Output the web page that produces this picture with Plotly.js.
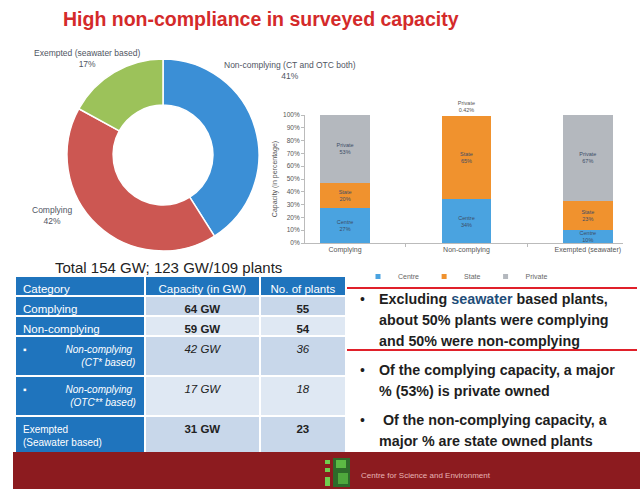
<!DOCTYPE html>
<html>
<head>
<meta charset="utf-8">
<script src="https://cdn.plot.ly/plotly-3.0.1.min.js"></script>
<style>html,body{margin:0;padding:0;background:#fff;overflow:hidden;}#chart{width:640px;height:489px;}</style>
</head>
<body>
<div id="chart"></div>
<script>
// ---- Data ----
const pieLabels = ["Non-complying (CT and OTC both)", "Complying", "Exempted (seawater based)"];
const pieValues = [41, 42, 17];
const pieColors = ["#3b8fd6", "#cc5752", "#9cc25a"];

const barCategories = ["Complying", "Non-complying", "Exempted (seawater)"];
const ownerNames = ["Centre", "State", "Private"];
const centreShare = [27, 34, 10];
const stateShare = [20, 65, 23];
const privateShare = [53, 0.42, 67];

const tableHeader = ["Category", "Capacity (in GW)", "No. of plants"];
const tableCategories = ["Complying", "Non-complying", "Non-complying|(CT* based)", "Non-complying|(OTC** based)", "Exempted|(Seawater based)"];
const tableSub = [false, false, true, true, false];
const tableCapacityGW = [64, 59, 42, 17, 31];
const tablePlants = [55, 54, 36, 18, 23];

const bulletLines = [
  ["Excluding <span style='color:#1f4e79'>seawater</span> based plants,", "about 50% plants were complying", "and 50% were non-complying"],
  ["Of the complying capacity, a major", "% (53%) is private owned"],
  ["\u00a0Of the non-complying capacity, a", "major % are state owned plants"]
];
const titleText = "High non-compliance in surveyed capacity";
const totalText = "Total 154 GW; 123 GW/109 plants";
const footerText = "Centre for Science and Environment";

// ---- helpers ----
const W = 640, H = 489;
const px = x => x / W;
const py = y => 1 - y / H;
const nb = s => s.replace(/ /g, "\u00a0");
const pad = n => "\u00a0".repeat(n);

// ---- Pie ----
const pie = {
  type: "pie", labels: pieLabels, values: pieValues, sort: false,
  direction: "clockwise", rotation: 0, hole: 0.52,
  marker: {colors: pieColors, line: {color: "#ffffff", width: 1.5}},
  textinfo: "none", hoverinfo: "none", showlegend: false,
  domain: {x: [px(67), px(259)], y: [py(252), py(58)]}
};

// ---- Bars ----
const barColors = ["#4aa3e0", "#f0922e", "#b4b8be"];
const shares = [centreShare, stateShare, privateShare];
const bars = ownerNames.map((name, i) => ({
  type: "bar", name: name, x: barCategories, y: shares[i], showlegend: false,
  marker: {color: barColors[i]}, width: 0.41,
  text: shares[i].map(v => name + "<br>" + v + "%"),
  textposition: shares[i].map(v => v < 5 ? "outside" : "inside"),
  insidetextanchor: "middle", constraintext: "none",
  textfont: {size: 5.5, color: "#3d4d66", family: "Liberation Sans"},
  outsidetextfont: {size: 5.5, color: "#555", family: "Liberation Sans"},
  cliponaxis: false, hoverinfo: "none", xaxis: "x", yaxis: "y"
}));
// legend entries (small square swatches like the source)
const legendEntries = ownerNames.map((name, i) => ({
  type: "scatter", mode: "markers", name: name, x: [null], y: [null],
  marker: {symbol: "square", size: 5, color: barColors[i]}, hoverinfo: "none",
  xaxis: "x", yaxis: "y", showlegend: true
}));

// ---- Table ----
const catCells = tableCategories.map((c, i) => {
  const parts = c.split("|").map(nb);
  if (tableSub[i]) {
    const second = parts[1].length > 12 ? 17 : 21;
    return "▪" + pad(14) + parts[0] + "<br>" + pad(second) + parts[1];
  }
  return parts.join("<br>");
});
const capCells = tableCapacityGW.map(v => v + "\u00a0GW");
const plantCells = tablePlants.map(v => String(v));
const rowFill = tableCategories.map((c, i) => i % 2 === 0 ? "#c8d7ea" : "#dfe8f3");
const catSize = tableCategories.map(c => c.indexOf("|") >= 0 ? 10 : 11.5);
const dataWeight = tableSub.map(s => s ? "normal" : "bold");
const styleArr = tableSub.map(s => s ? "italic" : "normal");
const table = {
  type: "table",
  domain: {x: [px(15), px(346)], y: [py(452), py(276)]},
  columnwidth: [128, 113, 85],
  header: {
    values: tableHeader.map(nb), align: ["left", "center", "center"], height: 20,
    fill: {color: "#1f74bd"}, line: {color: "#ffffff", width: 2},
    font: {family: "Liberation Sans", size: 11.5, color: "#ffffff"}
  },
  cells: {
    values: [catCells, capCells, plantCells], align: ["left", "center", "center"], height: 20,
    fill: {color: [tableCategories.map(() => "#1f74bd"), rowFill, rowFill]},
    line: {color: "#ffffff", width: 2},
    font: {family: "Liberation Sans",
      size: [catSize, 11.5, 11.5],
      color: [tableCategories.map(() => "#ffffff"), "#222222", "#222222"],
      weight: [tableCategories.map(() => "normal"), dataWeight, dataWeight],
      style: [styleArr, styleArr, styleArr]}
  }
};

// ---- Annotations ----
const A = (x, y, text, font, xanchor) => ({x: px(x), y: py(y), xref: "paper", yref: "paper", text: text,
  showarrow: false, xanchor: xanchor || "center", yanchor: "middle", font: font});
const ann = [];
ann.push(A(261, 19, "<b>" + titleText + "</b>", {family: "Liberation Sans Narrow, Liberation Sans", size: 19.5, color: "#d42a2a"}));
const pieLabelPos = [[290, 71], [52, 215], [87, 58]];
pieLabels.forEach((l, i) => {
  ann.push(A(pieLabelPos[i][0], pieLabelPos[i][1], l + "<br>" + pieValues[i] + "%", {family: "Liberation Sans", size: 8.5, color: "#4f5563"}));
});
ann.push(A(168, 267, totalText, {family: "Liberation Sans", size: 15, color: "#222"}));
const bulletY = [[299, 320, 341], [370, 391], [420, 441]];
bulletLines.forEach((lines, b) => {
  ann.push(A(362, bulletY[b][0], "•", {family: "Liberation Sans", size: 14, color: "#1e1e1e"}));
  lines.forEach((t, j) => {
    ann.push(A(377, bulletY[b][j], "<b>" + t + "</b>", {family: "Liberation Sans", size: 14.3, color: "#1e1e1e"}, "left"));
  });
});
ann.push(A(359, 475, footerText, {family: "Liberation Sans", size: 8, color: "#e8b4b4"}, "left"));

// ---- Shapes ----
const R = (x0, x1, y0, y1, c) => ({type: "rect", xref: "paper", yref: "paper", x0: px(x0), x1: px(x1), y0: py(y1), y1: py(y0), fillcolor: c, line: {width: 0}});
const shapes = [
  R(13, 640, 452, 489, "#8c1b1f"),
  {type: "line", xref: "paper", yref: "paper", x0: px(347), x1: px(637), y0: py(288), y1: py(288), line: {color: "#e0202a", width: 2}},
  {type: "line", xref: "paper", yref: "paper", x0: px(347), x1: px(637), y0: py(350), y1: py(350), line: {color: "#e0202a", width: 2}},
  R(333, 350, 458, 487, "#2e6b2a"),
  R(336, 346, 460, 468, "#5cb944"),
  R(338, 348, 473, 484, "#4fa83c"),
  R(325, 330, 460, 464, "#6fcf4f"),
  R(325, 330, 468, 472, "#6fcf4f"),
  R(325, 330, 477, 486, "#6fcf4f")
];

const layout = {
  width: W, height: H, autosize: false,
  margin: {l: 0, r: 0, t: 0, b: 0, pad: 0},
  paper_bgcolor: "#ffffff", plot_bgcolor: "#ffffff",
  barmode: "stack",
  showlegend: true,
  legend: {orientation: "h", x: px(358), y: py(262), xanchor: "left", yanchor: "top",
    font: {family: "Liberation Sans", size: 7, color: "#666"}, itemwidth: 30,
    bgcolor: "rgba(0,0,0,0)", traceorder: "normal"},
  xaxis: {domain: [px(305), px(623)], range: [-0.33, 2.29], type: "category", anchor: "y",
    showline: true, linecolor: "#bbbbbb", linewidth: 1, ticks: "outside", ticklen: 3, tickcolor: "#bbb",
    tickson: "boundaries", tickfont: {family: "Liberation Sans", size: 7, color: "#555"}, fixedrange: true},
  yaxis: {domain: [py(243), py(115)], range: [0, 100], dtick: 10, ticksuffix: "%", anchor: "x",
    showline: true, linecolor: "#bbbbbb", linewidth: 1, ticks: "outside", ticklen: 3, tickcolor: "#bbb",
    showgrid: false, zeroline: false, tickfont: {family: "Liberation Sans", size: 6.5, color: "#555"},
    title: {text: "Capacity (in percentage)", font: {family: "Liberation Sans", size: 7, color: "#555"}, standoff: 4}},
  annotations: ann,
  shapes: shapes
};

Plotly.newPlot("chart", [pie, ...bars, ...legendEntries, table], layout, {displayModeBar: false, staticPlot: true});
</script>
</body>
</html>
